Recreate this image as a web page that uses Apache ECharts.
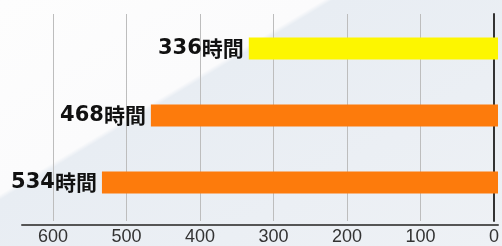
<!DOCTYPE html>
<html>
<head>
<meta charset="utf-8">
<script src="https://cdn.jsdelivr.net/npm/echarts@6/dist/echarts.min.js"></script>
<style>
html, body { margin: 0; padding: 0; }
body {
    background: linear-gradient(149deg, #fdfdfd 0%, #fbfbfc 35.5%, #e8edf3 36.5%, #eef1f5 100%);
}
#main { width: 502px; height: 246px; }
</style>
</head>
<body>
<div id="main"></div>
<script>
var hours = ['336', '468', '534'];
var values = [336, 468, 534];
var barColors = ['#fdf600', '#fd7b0c', '#fd7b0c'];
var ticks = [0, 100, 200, 300, 400, 500, 600];

var myChart = echarts.init(document.getElementById('main'));

var option = {
    backgroundColor: 'transparent',
    animation: false,
    grid: [
        // grid lines and tick labels
        { left: 53, right: 4, top: 14, bottom: 21 },
        // bars
        { left: 53, right: 4, top: 15, bottom: 30 },
        // long bottom axis line
        { left: 22, right: 4, top: 14, bottom: 21 }
    ],
    xAxis: [{
        gridIndex: 0,
        type: 'value',
        inverse: true,
        min: 0,
        max: 600,
        interval: 100,
        axisLine: { show: false },
        axisTick: { show: false },
        splitLine: { show: true, lineStyle: { color: '#bdbdbd', width: 1 } },
        axisLabel: {
            margin: 7,
            fontFamily: 'Liberation Sans',
            fontSize: 18,
            color: '#333'
        }
    }, {
        gridIndex: 1,
        type: 'value',
        inverse: true,
        min: 0,
        max: 600,
        show: false
    }, {
        gridIndex: 2,
        type: 'value',
        min: 0,
        max: 1,
        axisLine: { show: true, lineStyle: { color: '#555', width: 2 } },
        axisTick: { show: false },
        axisLabel: { show: false },
        splitLine: { show: false }
    }],
    yAxis: [{
        gridIndex: 0,
        type: 'category',
        position: 'right',
        data: hours,
        axisLine: { show: true, onZero: false, lineStyle: { color: '#333', width: 2 } },
        axisTick: { show: false },
        axisLabel: { show: false }
    }, {
        gridIndex: 1,
        type: 'category',
        inverse: true,
        data: hours,
        show: false
    }, {
        gridIndex: 2,
        type: 'category',
        data: hours,
        show: false
    }],
    series: [{
        type: 'bar',
        xAxisIndex: 1,
        yAxisIndex: 1,
        barWidth: 22,
        data: values.map(function (v, i) {
            return { value: v, itemStyle: { color: barColors[i] } };
        }),
        label: {
            show: true,
            position: 'left',
            distance: 5,
            formatter: function (p) {
                return '{n|' + hours[p.dataIndex] + '}{u|時間}';
            },
            rich: {
                n: { fontFamily: 'DejaVu Sans', fontWeight: 'bold', fontSize: 21, color: '#111' },
                u: { fontFamily: 'Noto Sans CJK JP', fontWeight: 'bold', fontSize: 21, color: '#111' }
            }
        }
    }]
};
myChart.setOption(option);
</script>
</body>
</html>
